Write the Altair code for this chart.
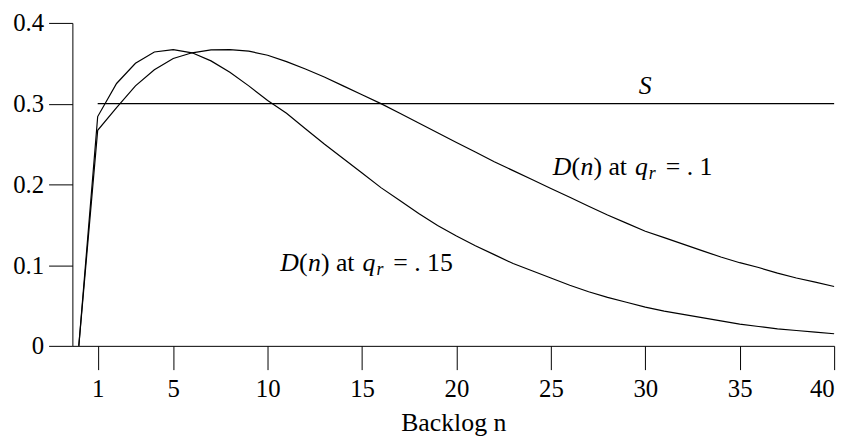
import altair as alt
import pandas as pd

# ---- data ----
n_vals = list(range(0, 41))
d_q10 = [0.0, 0.267, 0.295, 0.322, 0.342, 0.356, 0.363, 0.3665, 0.367, 0.365,
         0.360, 0.352, 0.343, 0.333, 0.322, 0.311, 0.300, 0.288, 0.276, 0.264,
         0.252, 0.240, 0.228, 0.217, 0.206, 0.195, 0.184, 0.173, 0.162, 0.152,
         0.142, 0.134, 0.126, 0.118, 0.110, 0.103, 0.097, 0.090, 0.084, 0.079,
         0.0735]
d_q15 = [0.0, 0.284, 0.325, 0.350, 0.364, 0.367, 0.363, 0.353, 0.339, 0.322,
         0.304, 0.288, 0.269, 0.250, 0.232, 0.214, 0.196, 0.180, 0.164, 0.149,
         0.136, 0.124, 0.113, 0.102, 0.093, 0.084, 0.075, 0.067, 0.060, 0.054,
         0.048, 0.043, 0.039, 0.035, 0.031, 0.027, 0.024, 0.021, 0.019, 0.017,
         0.015]
s_level = 0.3
s_from, s_to = 1, 40
x_ticks = [1, 5, 10, 15, 20, 25, 30, 35, 40]
y_ticks = [0, 0.1, 0.2, 0.3, 0.4]
x_title = "Backlog n"

# annotation anchors (data coordinates) and text
ann_n = [25.1, 10.67]
ann_v = [0.212, 0.093]
ann_last = ["1", "15"]
s_label_n, s_label_v = 30, 0.312

FONT = "'Liberation Serif', 'Times New Roman', Times, serif"

xscale = alt.Scale(domain=[-0.34, 40], nice=False, zero=False)
yscale = alt.Scale(domain=[0, 0.4], nice=False)

x_axis = alt.Axis(values=x_ticks, tickSize=24, labelPadding=7,
                  labelFontSize=25, title=x_title, titleFontSize=26,
                  titleFontWeight="normal", titleFont=FONT,
                  titleBaseline="alphabetic", titleY=85, grid=False)
y_axis = alt.Axis(values=y_ticks, tickSize=24, labelPadding=5,
                  labelFontSize=25, title=None, grid=False,
                  labelExpr="datum.value == 0 ? '0' : format(datum.value, '.1f')")

lines_df = pd.DataFrame({
    "n": n_vals + n_vals,
    "v": d_q10 + d_q15,
    "series": ["q10"] * len(n_vals) + ["q15"] * len(n_vals),
})

lines = alt.Chart(lines_df).mark_line(color="black", strokeWidth=1.2).encode(
    x=alt.X("n:Q", scale=xscale, axis=x_axis),
    y=alt.Y("v:Q", scale=yscale, axis=y_axis),
    detail="series:N",
)

s_df = pd.DataFrame({"n": [s_from], "n2": [s_to], "v": [s_level]})
s_rule = alt.Chart(s_df).mark_rule(color="black", strokeWidth=1.2).encode(
    x=alt.X("n:Q", scale=xscale, axis=x_axis),
    x2="n2:Q",
    y=alt.Y("v:Q", scale=yscale, axis=y_axis),
)


def piece(nv, vv, txt, dx, italic=False, size=26, dy=0, align="left"):
    df = pd.DataFrame({"n": [nv], "v": [vv], "t": [txt]})
    return alt.Chart(df).mark_text(
        align=align, baseline="alphabetic", dx=dx, dy=dy, font=FONT,
        fontSize=size, fontStyle="italic" if italic else "normal", color="black",
    ).encode(
        x=alt.X("n:Q", scale=xscale, axis=x_axis),
        y=alt.Y("v:Q", scale=yscale, axis=y_axis),
        text="t:N",
    )


layers = [lines, s_rule, piece(s_label_n, s_label_v, "S", 0, italic=True, align="center")]
for nv, vv, last in zip(ann_n, ann_v, ann_last):
    layers += [
        piece(nv, vv, "D", 0, italic=True),
        piece(nv, vv, "(", 19),
        piece(nv, vv, "n", 28, italic=True),
        piece(nv, vv, ") at", 41),
        piece(nv, vv, "q", 83, italic=True),
        piece(nv, vv, "r", 97, italic=True, size=18, dy=4),
        piece(nv, vv, "= . " + last, 114),
    ]

chart = alt.layer(*layers).properties(
    width=769, height=326,
    autosize=alt.AutoSizeParams(type="none"),
    padding={"left": 65, "top": 13, "right": 15, "bottom": 95},
).configure_view(stroke=None).configure_axis(
    domainColor="black", tickColor="black", labelColor="black",
    titleColor="black", labelFont=FONT, titleFont=FONT,
    domainWidth=1, tickWidth=1,
)

chart.save("out.html", embed_options={"renderer": "svg", "actions": False})
